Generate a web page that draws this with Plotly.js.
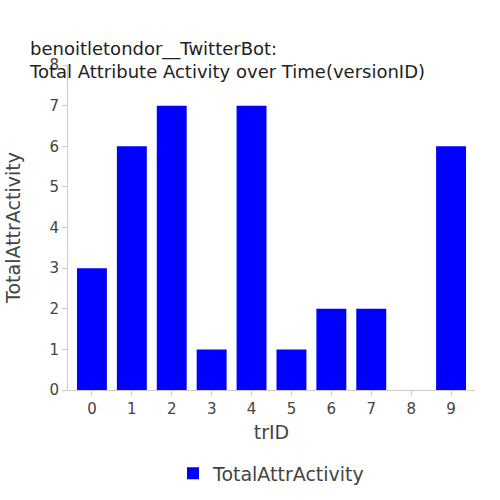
<!DOCTYPE html>
<html>
<head>
<script src="https://cdn.plot.ly/plotly-3.0.1.min.js"></script>
<style>body{margin:0}</style>
</head>
<body>
<div id="plot" style="width:500px;height:500px"></div>
<script>
// trID values and their activity counts
let trIDs = [0, 1, 2, 3, 4, 5, 6, 7, 8, 9];
let activity = [3, 6, 7, 1, 7, 1, 2, 2, 0, 6];

var data = [{
  x: trIDs,
  y: activity,
  type: "bar",
  name: "TotalAttrActivity",
  marker: {color: "#0000ff"},
  showlegend: true
}];

var layout = {
  width: 500,
  height: 500,
  font: {family: "DejaVu Sans", size: 14, color: "#444"},
  title: {
    text: "benoitletondor__TwitterBot:<br>Total Attribute Activity over Time(versionID)",
    font: {size: 18, color: "#222"},
    x: 0.06, xanchor: "left", yref: "container", y: 0.89, yanchor: "bottom"
  },
  margin: {t: 65, r: 25, b: 110, l: 68},
  bargap: 0.25,
  plot_bgcolor: "white",
  xaxis: {
    title: {text: "trID", font: {size: 19}, standoff: 8},
    tickmode: "linear", dtick: 1,
    tickfont: {size: 15},
    showgrid: false, zeroline: false,
    ticks: "outside", ticklen: 5, tickcolor: "#ccc",
    showline: true, linecolor: "#ccc",
    range: [-0.6, 9.6]
  },
  yaxis: {
    title: {text: "TotalAttrActivity", font: {size: 19}},
    range: [0, 8], dtick: 1,
    tickfont: {size: 15},
    showgrid: false, zeroline: false,
    ticks: "outside", ticklen: 5, tickcolor: "#ccc",
    showline: true, linecolor: "#ccc"
  },
  legend: {orientation: "h", x: 0.5, xanchor: "center", yref: "container", y: 0.015, yanchor: "bottom", font: {size: 19}}
};

Plotly.newPlot("plot", data, layout, {displayModeBar: false});
</script>
</body>
</html>
